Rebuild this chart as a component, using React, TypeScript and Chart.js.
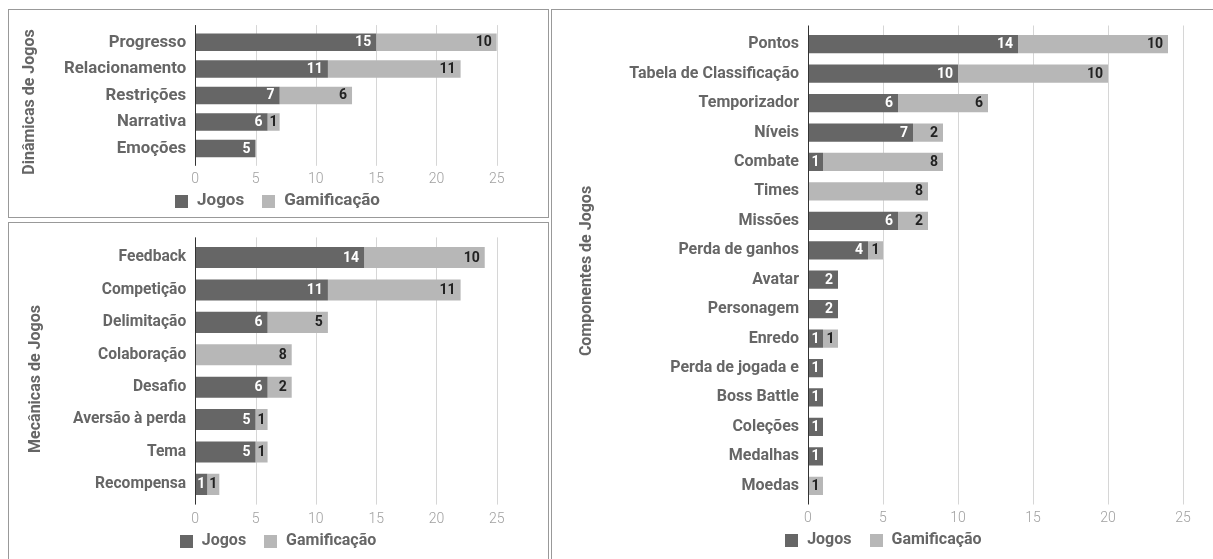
import React, { useEffect, useRef } from "react";
import { Chart, registerables } from "chart.js";

Chart.register(...registerables);

// ---- data ----
const seriesNames = ["Jogos", "Gamificação"];
const seriesColors = ["#666666", "#b7b7b7"];
const valueTextColors = ["#ffffff", "#222222"];
const axisMax = 25;
const axisStep = 5;

const dinamicasLabels = ["Progresso", "Relacionamento", "Restrições", "Narrativa", "Emoções"];
const dinamicasJogos = [15, 11, 7, 6, 5];
const dinamicasGamificacao = [10, 11, 6, 1, 0];

const mecanicasLabels = [
  "Feedback",
  "Competição",
  "Delimitação",
  "Colaboração",
  "Desafio",
  "Aversão à perda",
  "Tema",
  "Recompensa",
];
const mecanicasJogos = [14, 11, 6, 0, 6, 5, 5, 1];
const mecanicasGamificacao = [10, 11, 5, 8, 2, 1, 1, 1];

const componentesLabels = [
  "Pontos",
  "Tabela de Classificação",
  "Temporizador",
  "Níveis",
  "Combate",
  "Times",
  "Missões",
  "Perda de ganhos",
  "Avatar",
  "Personagem",
  "Enredo",
  "Perda de jogada e",
  "Boss Battle",
  "Coleções",
  "Medalhas",
  "Moedas",
];
const componentesJogos = [14, 10, 6, 7, 1, 0, 6, 4, 2, 2, 1, 1, 1, 1, 1, 0];
const componentesGamificacao = [10, 10, 6, 2, 8, 8, 2, 1, 0, 0, 1, 0, 0, 0, 0, 1];

// ---- styling ----
const FONT = "Roboto, 'Noto Sans', 'DejaVu Sans', sans-serif";
const LABEL_COLOR = "#666666";
const TICK_COLOR = "#a0a0a0";
const GRID_COLOR = "#d6d6d6";
const BASELINE_COLOR = "#333333";
const X_TICK_FONT_SIZE = 14;

// vertical grid lines at every x tick, running a little past the bar bands
const gridPlugin = {
  id: "bandGrid",
  beforeDatasetsDraw(chart: any, _args: any, opts: any) {
    const { ctx, chartArea, scales } = chart;
    const x = scales.x;
    const ext = opts.ext ?? 4;
    ctx.save();
    ctx.lineWidth = 1;
    ctx.strokeStyle = GRID_COLOR;
    x.ticks.forEach((t: any) => {
      if (t.value === 0) return;
      const px = Math.round(x.getPixelForValue(t.value)) + 0.5;
      ctx.beginPath();
      ctx.moveTo(px, chartArea.top - ext);
      ctx.lineTo(px, chartArea.bottom + ext);
      ctx.stroke();
    });
    ctx.restore();
  },
  afterDatasetsDraw(chart: any, _args: any, opts: any) {
    const { ctx, chartArea, scales } = chart;
    const ext = opts.ext ?? 4;
    const px = Math.round(scales.x.getPixelForValue(0)) + 0.5;
    ctx.save();
    ctx.lineWidth = 1;
    ctx.strokeStyle = BASELINE_COLOR;
    ctx.beginPath();
    ctx.moveTo(px, chartArea.top - ext);
    ctx.lineTo(px, chartArea.bottom + ext);
    ctx.stroke();
    ctx.restore();
  },
};

// value of each segment written inside its right end
const valuePlugin = {
  id: "segmentValues",
  afterDatasetsDraw(chart: any) {
    const { ctx } = chart;
    ctx.save();
    ctx.font = `bold 14px ${FONT}`;
    ctx.textBaseline = "middle";
    ctx.textAlign = "right";
    chart.data.datasets.forEach((ds: any, di: number) => {
      const meta = chart.getDatasetMeta(di);
      meta.data.forEach((bar: any, i: number) => {
        const v = ds.data[i];
        if (!v) return;
        const { x, base, y } = bar.getProps(["x", "base", "y"], true);
        const left = Math.min(x, base);
        const right = Math.max(x, base);
        const text = String(v);
        const tw = ctx.measureText(text).width;
        const pad = Math.min(5, Math.max((right - left - tw) / 2, 0));
        ctx.fillStyle = valueTextColors[di];
        ctx.fillText(text, right - pad, y + 0.5);
      });
    });
    ctx.restore();
  },
};

// rotated axis caption placed beside the category labels
const sideTitlePlugin = {
  id: "sideTitle",
  afterDraw(chart: any, _args: any, opts: any) {
    if (!opts || !opts.text) return;
    const { ctx } = chart;
    ctx.save();
    ctx.translate(opts.x, opts.y);
    ctx.rotate(-Math.PI / 2);
    ctx.font = `bold 16px ${FONT}`;
    ctx.fillStyle = LABEL_COLOR;
    ctx.textAlign = "center";
    ctx.textBaseline = "middle";
    ctx.fillText(opts.text, 0, 0);
    ctx.restore();
  },
};

// series key under the axis: square swatch + bold name, centred on the panel
const keyPlugin = {
  id: "seriesKey",
  afterDraw(chart: any, _args: any, opts: any) {
    const { ctx } = chart;
    const box = 13;
    const gap = 9;
    const spacing = 18;
    ctx.save();
    ctx.font = `bold ${opts.size}px ${FONT}`;
    ctx.textBaseline = "middle";
    ctx.textAlign = "left";
    const items = chart.data.datasets.map((ds: any) => ({
      text: ds.label as string,
      color: ds.backgroundColor as string,
    }));
    const widths = items.map((it: any) => box + gap + ctx.measureText(it.text).width);
    const total = widths.reduce((a: number, b: number) => a + b, 0) + spacing * (items.length - 1);
    let x = opts.x - total / 2;
    items.forEach((it: any, i: number) => {
      ctx.fillStyle = it.color;
      ctx.fillRect(Math.round(x), Math.round(opts.y - box / 2), box, box);
      ctx.fillStyle = LABEL_COLOR;
      ctx.fillText(it.text, x + box + gap, opts.y);
      x += widths[i] + spacing;
    });
    ctx.restore();
  },
};

type Frame = {
  left: number;
  top: number;
  width: number;
  height: number;
  gridLeft: number;
  gridRight: number;
  bandTop: number;
  bandBottom: number;
  tickY: number;
  legendY: number;
  legendX: number;
  legendSize: number;
  labelSize: number;
  titleX: number;
  titleY: number;
  barFrac: number;
};

type PanelProps = {
  frame: Frame;
  title: string;
  labels: string[];
  jogos: number[];
  gamificacao: number[];
};

function StackedPanel({ frame, title, labels, jogos, gamificacao }: PanelProps) {
  const ref = useRef<HTMLCanvasElement | null>(null);

  useEffect(() => {
    if (!ref.current) return;
    const f = frame;
    const W = f.width;
    const H = f.height;
    const padR = W - (f.gridRight - f.left);
    const padL = 10;
    const yAxisW = f.gridLeft - f.left - padL;
    const padT = f.bandTop - f.top;
    const areaBottom = f.bandBottom - f.top;
    const xAxisH = 40;
    const padB = H - areaBottom - xAxisH;
    const tickPad = f.tickY - f.bandBottom - (X_TICK_FONT_SIZE * 1.2) / 2;

    const chart = new Chart(ref.current, {
      type: "bar",
      data: {
        labels,
        datasets: [
          {
            label: seriesNames[0],
            data: jogos,
            backgroundColor: seriesColors[0],
            borderWidth: 0,
            categoryPercentage: f.barFrac,
            barPercentage: 1,
          },
          {
            label: seriesNames[1],
            data: gamificacao,
            backgroundColor: seriesColors[1],
            borderWidth: 0,
            categoryPercentage: f.barFrac,
            barPercentage: 1,
          },
        ],
      },
      options: {
        indexAxis: "y",
        animation: false,
        responsive: false,
        maintainAspectRatio: false,
        layout: { padding: { left: padL, right: padR, top: padT, bottom: padB } },
        scales: {
          x: {
            stacked: true,
            min: 0,
            max: axisMax,
            grid: { display: false, drawTicks: false },
            border: { display: false },
            ticks: {
              stepSize: axisStep,
              padding: tickPad,
              color: TICK_COLOR,
              font: { family: FONT, size: X_TICK_FONT_SIZE, weight: 300 },
            },
            afterFit: (s: any) => {
              s.height = xAxisH;
            },
          },
          y: {
            stacked: true,
            grid: { display: false, drawTicks: false },
            border: { display: false },
            ticks: {
              autoSkip: false,
              padding: 9,
              color: LABEL_COLOR,
              font: { family: FONT, size: f.labelSize, weight: "bold" },
            },
            afterFit: (s: any) => {
              s.width = yAxisW;
            },
          },
        },
        plugins: {
          legend: { display: false },
          tooltip: { enabled: false },
          bandGrid: { ext: 4 },
          seriesKey: { x: f.legendX - f.left, y: f.legendY - f.top, size: f.legendSize },
          sideTitle: { text: title, x: f.titleX - f.left, y: f.titleY - f.top },
        } as any,
      } as any,
      plugins: [gridPlugin, valuePlugin, sideTitlePlugin, keyPlugin],
    });
    return () => chart.destroy();
  }, [frame, title, labels, jogos, gamificacao]);

  return (
    <canvas
      ref={ref}
      width={frame.width}
      height={frame.height}
      style={{
        position: "absolute",
        left: frame.left,
        top: frame.top,
        width: frame.width,
        height: frame.height,
      }}
    />
  );
}

const dinamicasFrame: Frame = {
  left: 9,
  top: 10,
  width: 538,
  height: 206,
  gridLeft: 195.2,
  gridRight: 496.8,
  bandTop: 25.8,
  bandBottom: 161.8,
  tickY: 179.5,
  legendY: 201,
  legendX: 277.5,
  legendSize: 17,
  labelSize: 16.8,
  titleX: 29.5,
  titleY: 102,
  barFrac: 0.66,
};

const mecanicasFrame: Frame = {
  left: 9,
  top: 223,
  width: 538,
  height: 345,
  gridLeft: 195.2,
  gridRight: 496.8,
  bandTop: 241.2,
  bandBottom: 500.6,
  tickY: 519,
  legendY: 541,
  legendX: 278,
  legendSize: 16,
  labelSize: 15.6,
  titleX: 35.7,
  titleY: 379,
  barFrac: 0.65,
};

const componentesFrame: Frame = {
  left: 552,
  top: 10,
  width: 662,
  height: 560,
  gridLeft: 808,
  gridRight: 1183,
  bandTop: 29.5,
  bandBottom: 500.5,
  tickY: 518,
  legendY: 540,
  legendX: 883.4,
  legendSize: 16,
  labelSize: 16,
  titleX: 587,
  titleY: 271,
  barFrac: 0.62,
};

const boxStyle = (left: number, top: number, width: number, height: number): React.CSSProperties => ({
  position: "absolute",
  left,
  top,
  width,
  height,
  boxSizing: "border-box",
  border: "1px solid #999999",
});

export default function App() {
  return (
    <div
      style={{
        position: "absolute",
        left: 0,
        top: 0,
        width: 1213,
        height: 559,
        overflow: "hidden",
        background: "#ffffff",
      }}
    >
      <div style={boxStyle(8, 9, 541, 209)} />
      <div style={boxStyle(8, 222, 541, 345)} />
      <div style={boxStyle(551, 9, 670, 560)} />
      <StackedPanel
        frame={dinamicasFrame}
        title="Dinâmicas de Jogos"
        labels={dinamicasLabels}
        jogos={dinamicasJogos}
        gamificacao={dinamicasGamificacao}
      />
      <StackedPanel
        frame={mecanicasFrame}
        title="Mecânicas de Jogos"
        labels={mecanicasLabels}
        jogos={mecanicasJogos}
        gamificacao={mecanicasGamificacao}
      />
      <StackedPanel
        frame={componentesFrame}
        title="Componentes de Jogos"
        labels={componentesLabels}
        jogos={componentesJogos}
        gamificacao={componentesGamificacao}
      />
    </div>
  );
}
